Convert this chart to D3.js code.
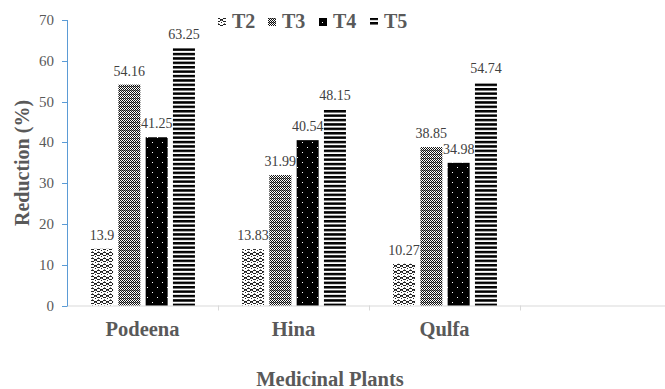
<!DOCTYPE html>
<html><head><meta charset="utf-8">
<script src="https://cdn.jsdelivr.net/npm/d3@7"></script>
<style>body{margin:0;background:#fff}svg{display:block} text{font-family:"Liberation Serif","Times New Roman",Times,serif}</style>
</head><body>
<svg id="c" width="665" height="389"></svg>
<script>
const categories = ["Podeena","Hina","Qulfa",""];
const seriesNames = ["T2","T3","T4","T5"];
const T2 = [13.9, 13.83, 10.27];
const T3 = [54.16, 31.99, 38.85];
const T4 = [41.25, 40.54, 34.98];
const T5 = [63.25, 48.15, 54.74];
const yTicks = [0,10,20,30,40,50,60,70];
const labelsT2 = ["13.9","13.83","10.27"];
const labelsT3 = ["54.16","31.99","38.85"];
const labelsT4 = ["41.25","40.54","34.98"];
const labelsT5 = ["63.25","48.15","54.74"];

const series = [T2,T3,T4,T5];
const labels = [labelsT2,labelsT3,labelsT4,labelsT5];

const svg = d3.select("#c");
const mLeft = 67, mTop = 20, mBottom = 305.5;
const x = d3.scaleBand().domain(categories).range([mLeft, mLeft + 4*151]);
const y = d3.scaleLinear().domain([0,70]).range([mBottom, mTop]);
const barW = 22, step = 27.3;

const defs = svg.append("defs");
function px(p, pts, col){ pts.forEach(([a,b])=>p.append("rect").attr("x",a).attr("y",b).attr("width",1).attr("height",1).attr("fill",col)); }
const p2 = defs.append("pattern").attr("id","p2").attr("width",6).attr("height",6).attr("patternUnits","userSpaceOnUse");
p2.append("rect").attr("width",6).attr("height",6).attr("fill","#fff");
px(p2, [[1,0],[2,0],[3,0],[0,1],[4,1],[0,2],[4,2],[1,3],[2,3],[3,3],[5,4],[5,1]], "#222");
px(p2, [[2,5],[5,2]], "#777");
const p3 = defs.append("pattern").attr("id","p3").attr("width",4).attr("height",4).attr("patternUnits","userSpaceOnUse");
p3.append("rect").attr("width",4).attr("height",4).attr("fill","#fff");
px(p3, [[0,0],[2,0],[1,1],[3,1],[0,2],[2,2],[1,3],[3,3]], "#111");
px(p3, [[1,2],[3,2]], "#888");
const p4 = defs.append("pattern").attr("id","p4").attr("width",10).attr("height",10).attr("patternUnits","userSpaceOnUse");
p4.append("rect").attr("width",10).attr("height",10).attr("fill","#000");
px(p4, [[2,2],[7,7]], "#fff");
const p5 = defs.append("pattern").attr("id","p5").attr("width",4).attr("height",4.4).attr("patternUnits","userSpaceOnUse");
p5.append("rect").attr("width",4).attr("height",4.4).attr("fill","#fff");
p5.append("rect").attr("y",0).attr("width",4).attr("height",2.5).attr("fill","#000");
const fills = ["url(#p2)","url(#p3)","url(#p4)","url(#p5)"];

svg.append("line").attr("x1",mLeft).attr("x2",665).attr("y1",mBottom+0.5).attr("y2",mBottom+0.5).attr("stroke","#d9d9d9").attr("stroke-width",1);
categories.forEach((c,i)=>{
  const xx = x(c) + x.bandwidth();
  svg.append("line").attr("x1",Math.round(xx)+0.5).attr("x2",Math.round(xx)+0.5).attr("y1",mBottom).attr("y2",mBottom+5).attr("stroke","#d9d9d9");
});
svg.append("line").attr("x1",mLeft+0.5).attr("x2",mLeft+0.5).attr("y1",mTop).attr("y2",mBottom+1).attr("stroke","#5b9bd5").attr("stroke-width",1);
yTicks.forEach(t=>{
  svg.append("line").attr("x1",mLeft-5).attr("x2",mLeft).attr("y1",Math.round(y(t))+0.5).attr("y2",Math.round(y(t))+0.5).attr("stroke","#5b9bd5");
  svg.append("text").attr("x",mLeft-13).attr("y",y(t)+5).attr("text-anchor","end")
    .attr("font-size",15).attr("fill","#595959").text(t);
});

categories.slice(0,3).forEach((c,i)=>{
  const cx = x(c) + x.bandwidth()/2;
  series.forEach((s,j)=>{
    const bx = cx - 2*step + j*step + (step-barW)/2 + 0.5;
    svg.append("rect").attr("x",bx).attr("y",y(s[i])).attr("width",barW).attr("height",mBottom - y(s[i])).attr("fill",fills[j]);
    svg.append("text").attr("x",bx+barW/2).attr("y",y(s[i])-9).attr("text-anchor","middle")
      .attr("font-size",14).attr("fill","#404040").text(labels[j][i]);
  });
  svg.append("text").attr("x",cx).attr("y",336).attr("text-anchor","middle")
    .attr("font-weight","bold").attr("font-size",20.5).attr("fill","#595959").text(c);
});

svg.append("text").attr("x",330).attr("y",386).attr("text-anchor","middle")
  .attr("font-weight","bold").attr("font-size",20.5).attr("fill","#595959").text("Medicinal Plants");
svg.append("text").attr("transform","translate(29,163) rotate(-90)").attr("text-anchor","middle")
  .attr("font-weight","bold").attr("font-size",20).attr("fill","#595959").text("Reduction (%)");

const lx = [218, 268, 319, 370];
seriesNames.forEach((n,j)=>{
  svg.append("rect").attr("x",lx[j]).attr("y",18).attr("width",8).attr("height",8).attr("fill",fills[j]);
  svg.append("text").attr("x",lx[j]+14).attr("y",27.5).attr("font-weight","bold")
    .attr("font-size",20).attr("fill","#595959").text(n);
});
</script>
</body></html>
